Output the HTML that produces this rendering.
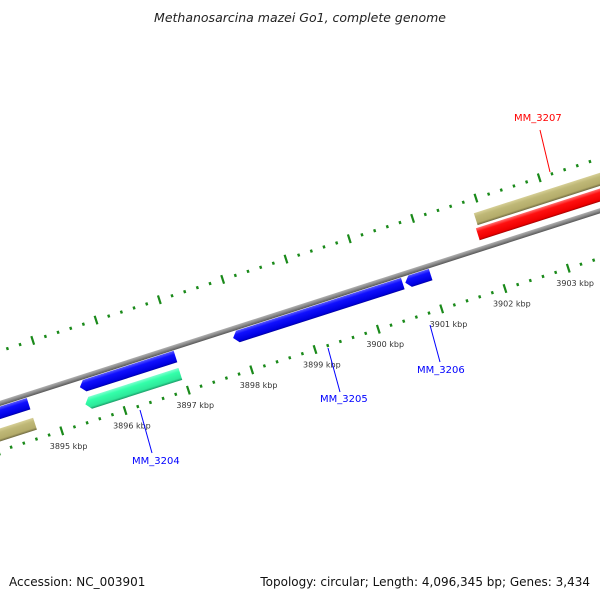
<!DOCTYPE html>
<html><head><meta charset="utf-8"><style>
body{margin:0;background:#fff;}
svg{display:block;font-family:"DejaVu Sans","Liberation Sans",sans-serif;}
</style></head><body>
<svg id="chart" width="600" height="600" viewBox="0 0 600 600" xmlns="http://www.w3.org/2000/svg">
<defs>
<linearGradient id="gBlue" x1="0" y1="0" x2="0" y2="1"><stop offset="0" stop-color="#5a5aff"/><stop offset="0.3" stop-color="#1010ff"/><stop offset="0.85" stop-color="#0000e0"/><stop offset="1" stop-color="#0000a0"/></linearGradient>
<linearGradient id="gGreen" x1="0" y1="0" x2="0" y2="1"><stop offset="0" stop-color="#7fffd0"/><stop offset="0.3" stop-color="#33ffaa"/><stop offset="0.8" stop-color="#2ee89a"/><stop offset="1" stop-color="#1a9a66"/></linearGradient>
<linearGradient id="gTan" x1="0" y1="0" x2="0" y2="1"><stop offset="0" stop-color="#d6cf96"/><stop offset="0.3" stop-color="#bfb877"/><stop offset="0.8" stop-color="#b3ab6a"/><stop offset="1" stop-color="#6e6940"/></linearGradient>
<linearGradient id="gRed" x1="0" y1="0" x2="0" y2="1"><stop offset="0" stop-color="#ff7070"/><stop offset="0.3" stop-color="#ff1010"/><stop offset="0.85" stop-color="#ee0000"/><stop offset="1" stop-color="#a00000"/></linearGradient>
<linearGradient id="gGray" x1="0" y1="0" x2="0" y2="1"><stop offset="0" stop-color="#b0b0b0"/><stop offset="0.5" stop-color="#8a8a8a"/><stop offset="1" stop-color="#555"/></linearGradient>
</defs>
<text x="300" y="22" text-anchor="middle" font-size="12.5" font-style="italic" fill="#222">Methanosarcina mazei Go1, complete genome</text>
<g id="map" transform="translate(48,388) rotate(-17.8)"></g>
<g id="labels"></g>
<text x="9" y="586" font-size="12" fill="#111">Accession: NC_003901</text>
<text x="590" y="586" text-anchor="end" font-size="12" fill="#111">Topology: circular; Length: 4,096,345 bp; Genes: 3,434</text>
</svg>
<script>
// data
const tickStartKbp = 3893;
const tickEndKbp = 3906;
const tickLabelsKbp = [3895, 3896, 3897, 3898, 3899, 3900, 3901, 3902, 3903];
const featureNames = ['f-left-blue','f-left-tan','MM_3204','MM_3204b','MM_3205','MM_3206','MM_3207-tan','MM_3207'];
const featureStart = [3892, 3892, 3895.46, 3895.46, 3897.88, 3900.6, 3901.9, 3901.86];
const featureEnd   = [3894.65, 3894.65, 3896.97, 3896.96, 3900.56, 3901.0, 3906, 3906];
const featureStrand = [-1, -1, -1, -1, -1, -1, 1, 1];
const featureRing = ['blue','tan-in','blue','green','blue','blue','tan-out','red'];
const labelNames = ['MM_3204', 'MM_3205', 'MM_3206', 'MM_3207'];
const labelColors = ['#0000ff', '#0000ff', '#0000ff', '#ff0000'];

const NS = 'http://www.w3.org/2000/svg';
const scale = 66.5, base = 3895;
const ang = -17.8 * Math.PI / 180;
const ox = 48, oy = 388;
function ax(k) { return (k - base) * scale; }
function toScreen(a, o) { return [ox + a * Math.cos(ang) - o * Math.sin(ang), oy + a * Math.sin(ang) + o * Math.cos(ang)]; }
const ringOff = {'blue': 9, 'green': 27, 'tan-in': 30, 'red': -15, 'tan-out': -30};
const ringFill = {'blue': 'url(#gBlue)', 'green': 'url(#gGreen)', 'tan-in': 'url(#gTan)', 'red': 'url(#gRed)', 'tan-out': 'url(#gTan)'};
const map = document.getElementById('map');
const labels = document.getElementById('labels');
function mk(tag, attrs, parent) { const e = document.createElementNS(NS, tag); for (const k in attrs) e.setAttribute(k, attrs[k]); parent.appendChild(e); return e; }

// backbone
const bb = mk('rect', {x: ax(3893), y: -2.5, width: ax(3905) - ax(3893), height: 5, fill: 'url(#gGray)'}, map);



// ticks
const innerO = 45, outerO = -50;
for (let i = 0; i <= (tickEndKbp - tickStartKbp) * 5; i++) {
  const k = tickStartKbp + i * 0.2;
  const major = i % 5 === 0;
  [innerO, outerO].forEach(function (o, ri) {
    const a = ax(k);
    let t;
    if (major) t = mk('rect', {x: a - 1.1, y: o - 4.5, width: 2.2, height: 9, fill: '#1a8a1a'}, map);
    else t = mk('rect', {x: a - 1.2, y: o - 1.4, width: 2.4, height: 3, fill: '#1a8a1a'}, map);
    
    
  });
}
tickLabelsKbp.forEach(function (k) {
  const p = toScreen(ax(k), innerO);
  const t = mk('text', {x: p[0] - 12, y: p[1] + 18, 'font-size': 8, fill: '#333'}, labels);
  t.textContent = k + ' kbp';
  
  
});

// features
featureNames.forEach(function (n, i) {
  const a0 = ax(featureStart[i]), a1 = ax(featureEnd[i]);
  const o = ringOff[featureRing[i]];
  const h = (featureRing[i] === 'blue') ? 12 : 12.5;
  const t = o - h / 2, b = o + h / 2, aw = 5;
  let d;
  if (featureStrand[i] < 0) d = `M${a0},${o} L${a0 + aw},${t} L${a1},${t} L${a1},${b} L${a0 + aw},${b} Z`;
  else d = `M${a0},${t} L${a1},${t} L${a1},${b} L${a0},${b} Z`;
  const p = mk('path', {d: d, fill: ringFill[featureRing[i]]}, map);
  
  
});

// annotation labels
const lblPos = [[140, 410, 152, 453, 132, 464], [328, 348, 340, 392, 320, 402], [430, 325, 440, 362, 417, 373], [550, 172, 540, 130, 514, 121]];
labelNames.forEach(function (n, i) {
  const q = lblPos[i];
  const l = mk('line', {x1: q[0], y1: q[1], x2: q[2], y2: q[3], stroke: labelColors[i], 'stroke-width': 1}, labels);
  
  
  const t = mk('text', {x: q[4], y: q[5], 'font-size': 10, fill: labelColors[i]}, labels);
  t.textContent = n;
  
  
});
</script>
</body></html>
